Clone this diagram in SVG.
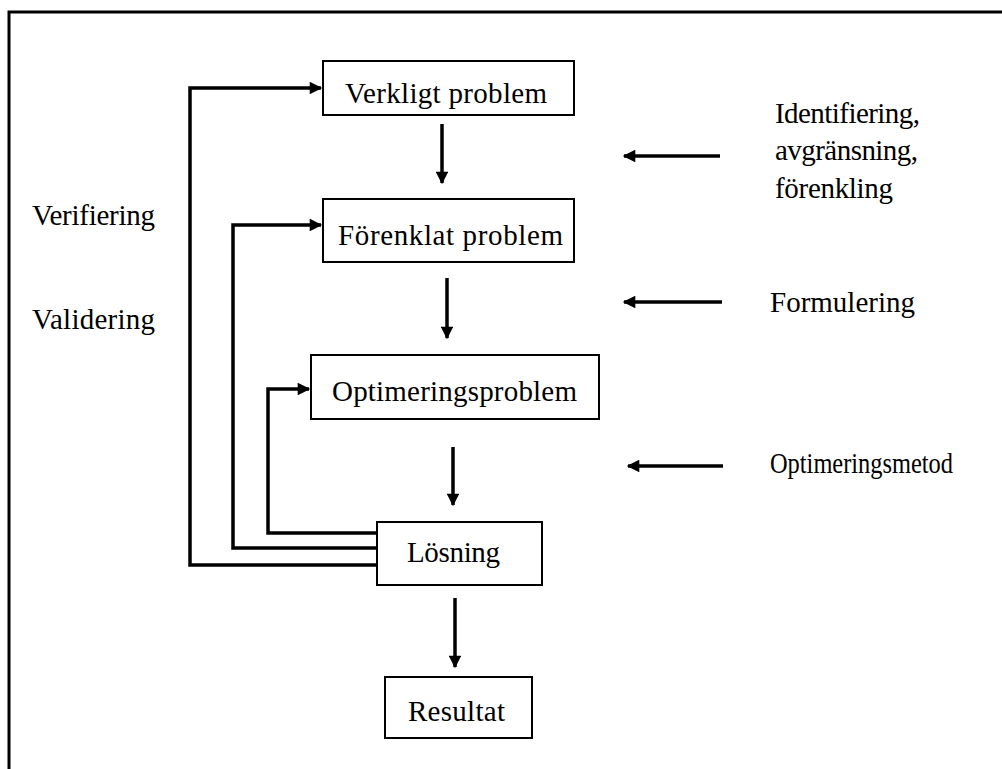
<svg xmlns="http://www.w3.org/2000/svg" width="1002" height="769" viewBox="0 0 1002 769">
  <style>
    .box { fill: #fff; stroke: #000; stroke-width: 2; }
    .lbl { font-family: "Liberation Serif", "Times New Roman", serif; font-size: 29px; fill: #000; }
    .wire { fill: none; stroke: #000; stroke-width: 3.5; }
  </style>
  <defs>
    <marker id="head" viewBox="0 0 10 10" refX="9" refY="5" markerWidth="4" markerHeight="3.6" orient="auto" markerUnits="strokeWidth">
      <path d="M0,0 L10,5 L0,10 z" fill="#000"/>
    </marker>
  </defs>

  <rect width="1002" height="769" fill="#fff"/>
  <!-- page frame: left and top edges -->
  <path d="M9,769 V12 H1002" fill="none" stroke="#000" stroke-width="3"/>

  <g id="connectors">
    <!-- main flow -->
    <line class="wire" x1="442" y1="124" x2="442" y2="183" marker-end="url(#head)"/>
    <line class="wire" x1="447" y1="278" x2="447" y2="338" marker-end="url(#head)"/>
    <line class="wire" x1="453" y1="447" x2="453" y2="505" marker-end="url(#head)"/>
    <line class="wire" x1="455" y1="598" x2="455" y2="667" marker-end="url(#head)"/>
    <!-- feedback loops from Lösning -->
    <polyline class="wire" points="377,565 190,565 190,88 321,88" marker-end="url(#head)"/>
    <polyline class="wire" points="377,548 233,548 233,225 321,225" marker-end="url(#head)"/>
    <polyline class="wire" points="377,533 268,533 268,389 309,389" marker-end="url(#head)"/>
    <!-- side activities -->
    <line class="wire" x1="720" y1="156" x2="624" y2="156" marker-end="url(#head)"/>
    <line class="wire" x1="722" y1="302" x2="624" y2="302" marker-end="url(#head)"/>
    <line class="wire" x1="723" y1="466" x2="628" y2="466" marker-end="url(#head)"/>
  </g>

  <g id="verkligt">
    <rect class="box" x="323" y="61" width="251" height="54"/>
    <text class="lbl" x="345" y="103" textLength="202">Verkligt problem</text>
  </g>
  <g id="forenklat">
    <rect class="box" x="323" y="199" width="251" height="63"/>
    <text class="lbl" x="338" y="245" textLength="225">Förenklat problem</text>
  </g>
  <g id="optimering">
    <rect class="box" x="311" y="355" width="288" height="64"/>
    <text class="lbl" x="332" y="401" textLength="245">Optimeringsproblem</text>
  </g>
  <g id="losning">
    <rect class="box" x="377" y="522" width="165" height="63"/>
    <text class="lbl" x="407" y="562" textLength="93">Lösning</text>
  </g>
  <g id="resultat">
    <rect class="box" x="385" y="677" width="147" height="61"/>
    <text class="lbl" x="408" y="721" textLength="97">Resultat</text>
  </g>

  <g id="side-labels">
    <text class="lbl" x="32" y="225" textLength="123">Verifiering</text>
    <text class="lbl" x="32" y="329" textLength="123">Validering</text>
    <text class="lbl" x="775" y="123" textLength="145">Identifiering,</text>
    <text class="lbl" x="775" y="160" textLength="143">avgränsning,</text>
    <text class="lbl" x="775" y="198" textLength="118">förenkling</text>
    <text class="lbl" x="770" y="312" textLength="145">Formulering</text>
    <text class="lbl" x="770" y="473" font-size="27" textLength="183" lengthAdjust="spacingAndGlyphs">Optimeringsmetod</text>
  </g>
</svg>
